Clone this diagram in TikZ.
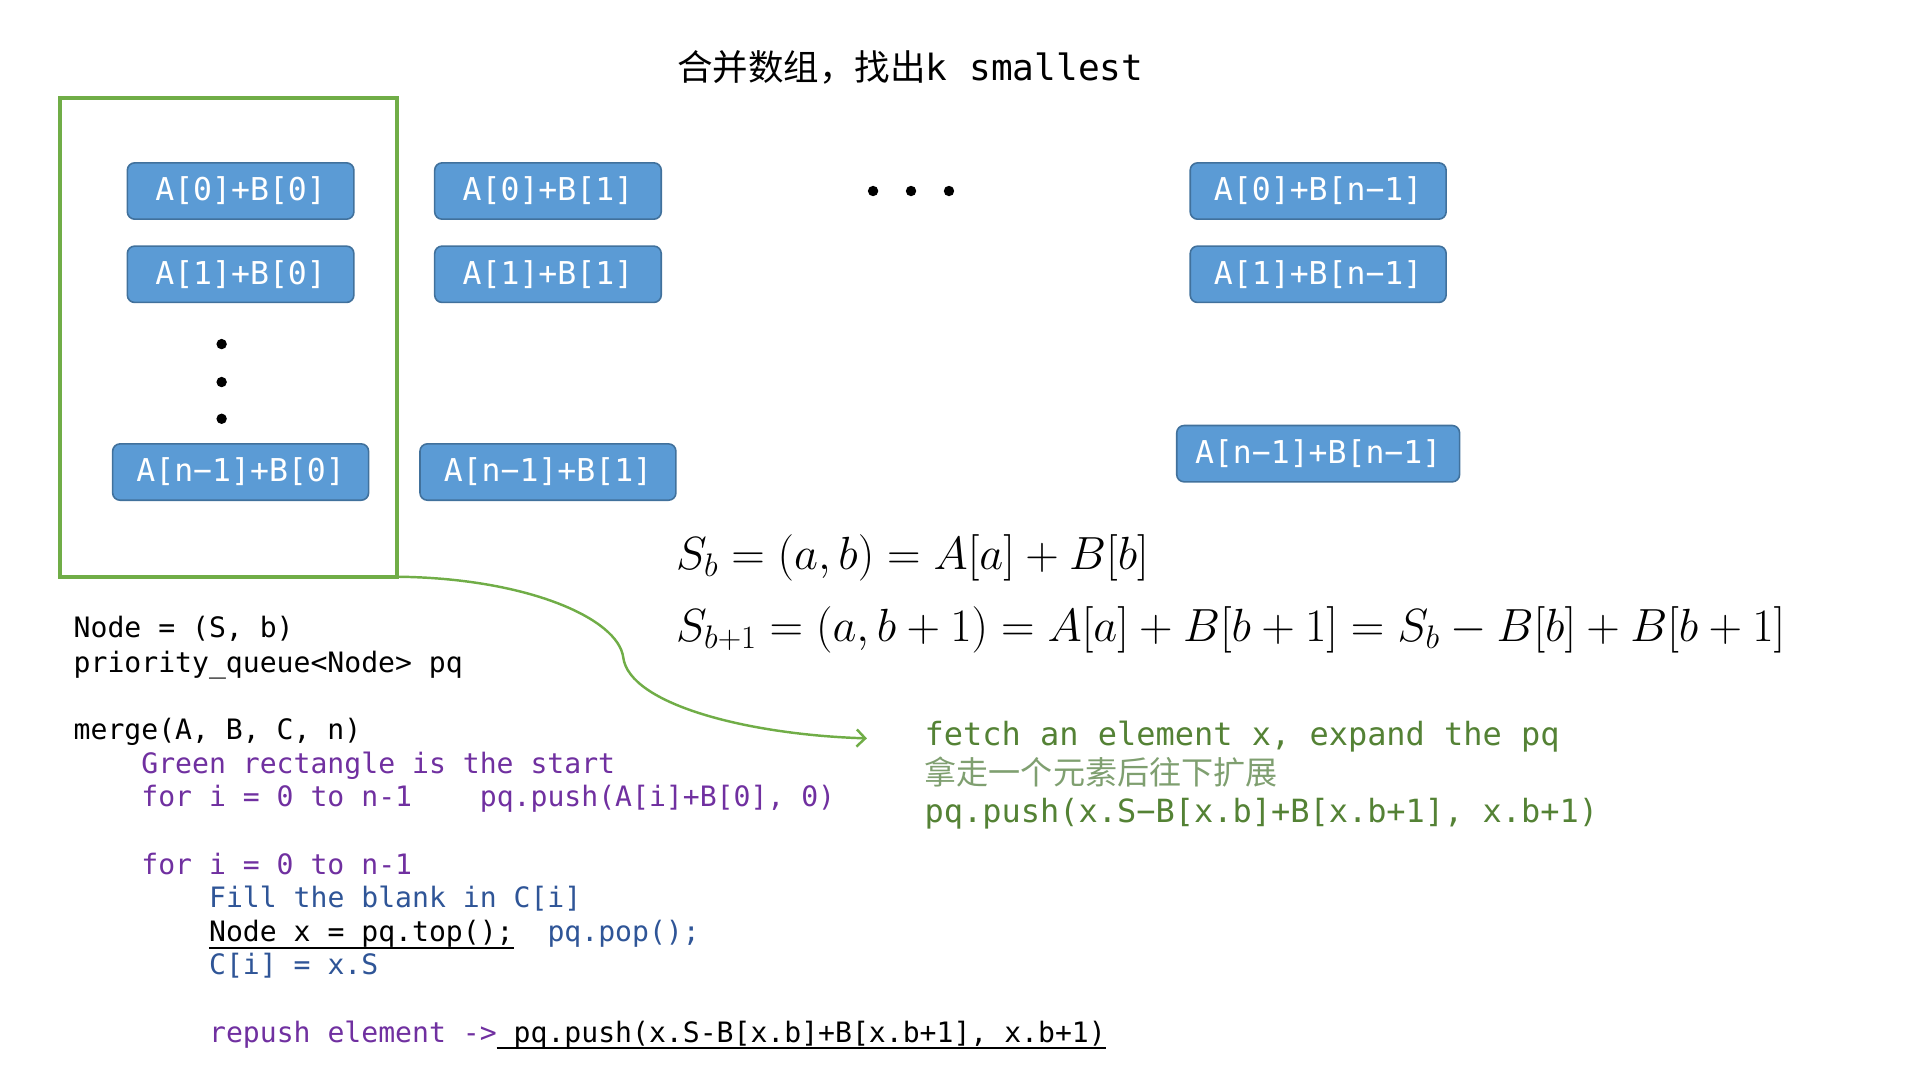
\RequirePackage{fix-cm}
\documentclass[tikz,border=0pt]{standalone}
\usepackage{fontspec}
\setmonofont{DejaVu Sans Mono}
\newfontfamily\cjk{Noto Sans CJK SC}
\usetikzlibrary{arrows.meta}
\definecolor{boxfill}{HTML}{5B9BD5}
\definecolor{boxdraw}{HTML}{41719C}
\definecolor{grn}{HTML}{70AD47}
\definecolor{dgrn}{HTML}{548235}
\definecolor{lgrn}{HTML}{7F9F70}
\definecolor{cpurple}{HTML}{7030A0}
\definecolor{cblue}{HTML}{2F5597}
\tikzset{
  cell/.style={draw=boxdraw, line width=1.3pt, fill=boxfill, rounded corners=6pt,
    minimum height=46pt, inner sep=0pt, text=white,
    font=\ttfamily\fontsize{25.7}{30}\selectfont},
  code/.style={anchor=base west, inner sep=0pt, font=\ttfamily\fontsize{22.95}{27}\selectfont},
  note/.style={anchor=base west, inner sep=0pt, text=dgrn, font=\ttfamily\fontsize{26.1}{30}\selectfont},
  dot/.style={circle, fill=black, inner sep=0pt, minimum size=8.5pt},
  uline/.style={line width=1.6pt},
  formula/.style={anchor=base west, inner sep=0pt, font=\fontsize{38}{44}\selectfont},
}
\begin{document}
\begin{tikzpicture}[x=1pt,y=-1pt]
\useasboundingbox (0,0) rectangle (1568,882);
% title
\node[anchor=base west, inner sep=0pt] (title) at (553,66)
  {{\cjk\fontsize{29}{32}\selectfont 合并数组，找出}{\ttfamily\fontsize{29.5}{32}\selectfont k smallest}};
% green start rectangle
\draw[grn, line width=3pt] (49,80) rectangle (324,471);
\coordinate (gcorner) at (324,471);
% cells
\node[cell, minimum width=185pt] (a0b0) at (196.5,156) {A[0]+B[0]};
\node[cell, minimum width=185pt] (a1b0) at (196.5,224) {A[1]+B[0]};
\node[cell, minimum width=209pt] (anb0) at (196.5,385.5) {A[n−1]+B[0]};
\node[cell, minimum width=185pt] (a0b1) at (447.5,156) {A[0]+B[1]};
\node[cell, minimum width=185pt] (a1b1) at (447.5,224) {A[1]+B[1]};
\node[cell, minimum width=209pt] (anb1) at (447.5,385.5) {A[n−1]+B[1]};
\node[cell, minimum width=209pt] (a0bn) at (1076.5,156) {A[0]+B[n−1]};
\node[cell, minimum width=209pt] (a1bn) at (1076.5,224) {A[1]+B[n−1]};
\node[cell, minimum width=231pt] (anbn) at (1076.5,370.5) {A[n−1]+B[n−1]};
% dots
\node[dot] (vd1) at (181,281) {};
\node[dot] (vd2) at (181,312) {};
\node[dot] (vd3) at (181,342) {};
\node[dot] (hd1) at (713,156) {};
\node[dot] (hd2) at (744,156) {};
\node[dot] (hd3) at (775,156) {};
% formulas
\node[formula] (f1) at (552,465) {$S_b = (a,b) = A[a] + B[b]$};
\node[formula] (f2) at (552,524) {$S_{b+1} = (a,b+1) = A[a] + B[b+1] = S_b - B[b] + B[b+1]$};
% notes
\node[note] (n1) at (755,609) {fetch an element x, expand the pq};
\node[note, text=lgrn, font=\cjk\fontsize{26.2}{30}\selectfont] (n2) at (755,641) {拿走一个元素后往下扩展};
\node[note] (n3) at (755,672) {pq.push(x.S−B[x.b]+B[x.b+1], x.b+1)};
\coordinate (atip) at (708,603);
% arrow
\draw[grn, line width=2pt, -{Straight Barb[length=7pt,width=14pt]}]
  (gcorner) .. controls (430,472) and (505,505) .. (509,537)
  .. controls (514,575) and (610,600) .. (atip);
% code
\node[code] (c1) at (60,521) {Node = (S, b)};
\node[code] (c2) at (60,549) {priority\_queue<Node> pq};
\node[code] (c3) at (60,604) {merge(A, B, C, n)};
\node[code, text=cpurple] (c4) at (60+4*13.82,632) {Green rectangle is the start};
\node[code, text=cpurple] (c5) at (60+4*13.82,659) {for i = 0 to n-1};
\node[code, text=cpurple] (c5b) at (60+24*13.82,659) {pq.push(A[i]+B[0], 0)};
\node[code, text=cpurple] (c6) at (60+4*13.82,714) {for i = 0 to n-1};
\node[code, text=cblue] (c7) at (60+8*13.82,741) {Fill the blank in C[i]};
\node[code] (c8) at (60+8*13.82,769) {Node x = pq.top();};
\node[code, text=cblue] (c8b) at (60+28*13.82,769) {pq.pop();};
\node[code, text=cblue] (c9) at (60+8*13.82,796) {C[i] = x.S};
\node[code, text=cpurple] (c10) at (60+8*13.82,851) {repush element ->};
\node[code] (c10b) at (60+26*13.82,851) {pq.push(x.S-B[x.b]+B[x.b+1], x.b+1)};
\draw[uline] ([yshift=-5pt]c8.base west) -- ([yshift=-5pt]c8.base east);
\draw[uline] ([yshift=-5pt,xshift=-13.82pt]c10b.base west) -- ([yshift=-5pt]c10b.base east);
\end{tikzpicture}
\end{document}
